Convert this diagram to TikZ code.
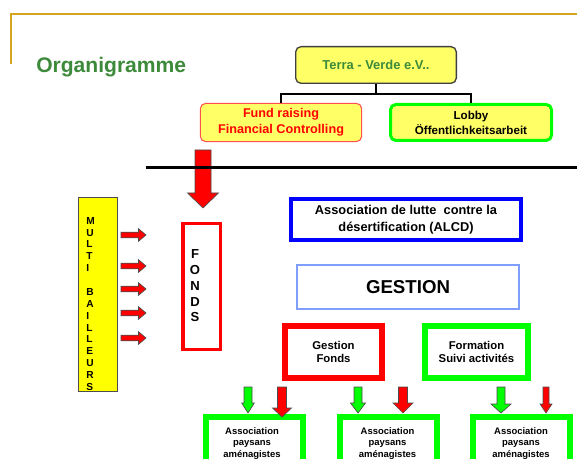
\documentclass[tikz,border=0pt]{standalone}
\usepackage{fontspec}
\setmainfont{Liberation Sans}
\definecolor{gold}{HTML}{D4A520}
\definecolor{titlegreen}{HTML}{3C8A3A}
\definecolor{boxyellow}{HTML}{FFFF66}
\definecolor{baryellow}{HTML}{FFFF00}
\definecolor{lgreen}{HTML}{00FF00}
\definecolor{lblue}{HTML}{7F9FFF}
\definecolor{fundred}{HTML}{FF5050}
\newcommand{\vArrow}[7]{%
  \filldraw[fill=#1, draw=black!70, line width=0.5pt]
    (#2-#5,#3) -- (#2+#5,#3) -- (#2+#5,#7) -- (#2+#6,#7) -- (#2,#4)
    -- (#2-#6,#7) -- (#2-#5,#7) -- cycle;}
\newcommand{\hArrow}[6]{%
  \filldraw[fill=red, draw=black!70, line width=0.5pt]
    (#1,#3-#4) -- (#6,#3-#4) -- (#6,#3-#5) -- (#2,#3) -- (#6,#3+#5)
    -- (#6,#3+#4) -- (#1,#3+#4) -- cycle;}
\begin{document}
\begin{tikzpicture}[x=0.75pt,y=-0.75pt,
  rbox/.style={rounded corners=4pt, fill=boxyellow, inner sep=0pt, align=center},
  terrabox/.style={rbox, draw=black!75, line width=1pt, minimum width=120.5pt,
    minimum height=27.5pt, text=titlegreen, font=\bfseries\fontsize{9.7}{11}\selectfont},
  fundbox/.style={rbox, draw=fundred, line width=0.8pt, minimum width=121pt,
    minimum height=28.7pt, text=red, font=\bfseries\fontsize{9.5}{12}\selectfont},
  lobbybox/.style={rbox, draw=lgreen, line width=2.25pt, minimum width=120.75pt,
    minimum height=27pt, text=black, font=\bfseries\fontsize{8.7}{11.25}\selectfont},
  sqbox/.style={inner sep=0pt, align=center, font=\bfseries\fontsize{8.5}{9.75}\selectfont},
  alcdbox/.style={sqbox, draw=blue, line width=3pt, minimum width=172.5pt,
    minimum height=30.75pt, font=\bfseries\fontsize{9.6}{12.75}\selectfont},
  gestbox/.style={sqbox, draw=lblue, line width=1pt, minimum width=166.5pt,
    minimum height=33pt, font=\bfseries\fontsize{14}{16}\selectfont},
  redbox/.style={sqbox, draw=red, line width=4.5pt, minimum width=72.75pt, minimum height=39pt},
  greenbox/.style={sqbox, draw=lgreen, line width=4.5pt, minimum width=77.25pt, minimum height=39pt},
  assocbox/.style={sqbox, draw=lgreen, line width=4.5pt, minimum width=72.75pt,
    minimum height=90pt, anchor=north},
  assoctext/.style={align=center, inner sep=0pt, font=\bfseries\fontsize{7.1}{8.6}\selectfont},
  connector/.style={draw=black, line width=1.1pt}
]
\useasboundingbox (0,0) rectangle (577,459);
\clip (0,0) rectangle (577,459);

% gold frame line
\draw[gold, line width=1.1pt] (11,64) -- (11,14) -- (577,14);

% title
\node[anchor=base west, inner sep=0pt, text=titlegreen,
  font=\bfseries\fontsize{15.8}{18}\selectfont] (title) at (36,72.5) {Organigramme};

% top boxes
\node[terrabox] (terra) at (376,65) {Terra - Verde e.V..};
\node[fundbox] (fund) at (281,122.5) {Fund raising\\Financial Controlling};
\node[lobbybox] (lobby) at (471,122.5) {Lobby\\Öffentlichkeitsarbeit};

\coordinate (bus) at (376,94);
\draw[connector] (terra.south) -- (bus);
\draw[connector] (fund.north) |- (bus) -| (lobby.north);

% big red arrow and separator line
\vArrow{red}{203}{150}{208}{8}{15.5}{193}
\coordinate (sepL) at (146,168);
\coordinate (sepR) at (577,168);
\draw[black, line width=2.25pt] (sepL) -- (sepR);

% MULTI BAILLEURS bar
\node[draw=black!70, fill=baryellow, line width=0.75pt, minimum width=29.25pt,
  minimum height=144.75pt, inner sep=0pt] (bar) at (97.5,294.5) {};
\node[anchor=north west, align=left, inner sep=0pt,
  font=\bfseries\fontsize{7.6}{8.9}\selectfont] (bartext) at (86,217)
  {M\\U\\L\\T\\I\\[8.9pt]B\\A\\I\\L\\L\\E\\U\\R\\S};

% small red arrows
\foreach \yy in {235,266,289,313,338} {
  \hArrow{121}{146}{\yy}{2.8}{6.3}{138.5}
}

% FONDS box
\node[draw=red, line width=2.6pt, minimum width=28.1pt, minimum height=94.1pt,
  inner sep=0pt] (fonds) at (201.5,286.5) {};
\node[align=center, inner sep=0pt, font=\bfseries\fontsize{9.8}{11.8}\selectfont]
  (fondstext) at (195,286) {F\\O\\N\\D\\S};

% ALCD and GESTION
\node[alcdbox] (alcd) at (406,219.5) {Association de lutte\ \ contre la\\désertification (ALCD)};
\node[gestbox] (gestion) at (408,287) {GESTION};

% Gestion fonds / Formation
\node[redbox] (gfonds) at (333.5,352) {Gestion\\Fonds};
\node[greenbox] (formation) at (476.5,352) {Formation\\Suivi activités};

% bottom association boxes
\node[assocbox] (a1) at (254.5,414) {};
\node[assocbox] (a2) at (388,414) {};
\node[assocbox] (a3) at (521.5,414) {};
\node[assoctext] (t1) at (252,443.5) {Association\\paysans\\aménagistes};
\node[assoctext] (t2) at (387.5,443.5) {Association\\paysans\\aménagistes};
\node[assoctext] (t3) at (521,443.5) {Association\\paysans\\aménagistes};

% bottom arrows
\vArrow{lgreen}{248}{387}{413}{4}{6.3}{403}
\vArrow{red}{282}{387}{417}{4.5}{9.5}{408}
\vArrow{lgreen}{358}{387}{413}{4}{7.5}{403}
\vArrow{red}{403}{387}{413}{4.5}{10}{403}
\vArrow{lgreen}{501}{387}{413}{4}{10}{404}
\vArrow{red}{546}{387}{413}{3}{6}{404}
\end{tikzpicture}
\end{document}
